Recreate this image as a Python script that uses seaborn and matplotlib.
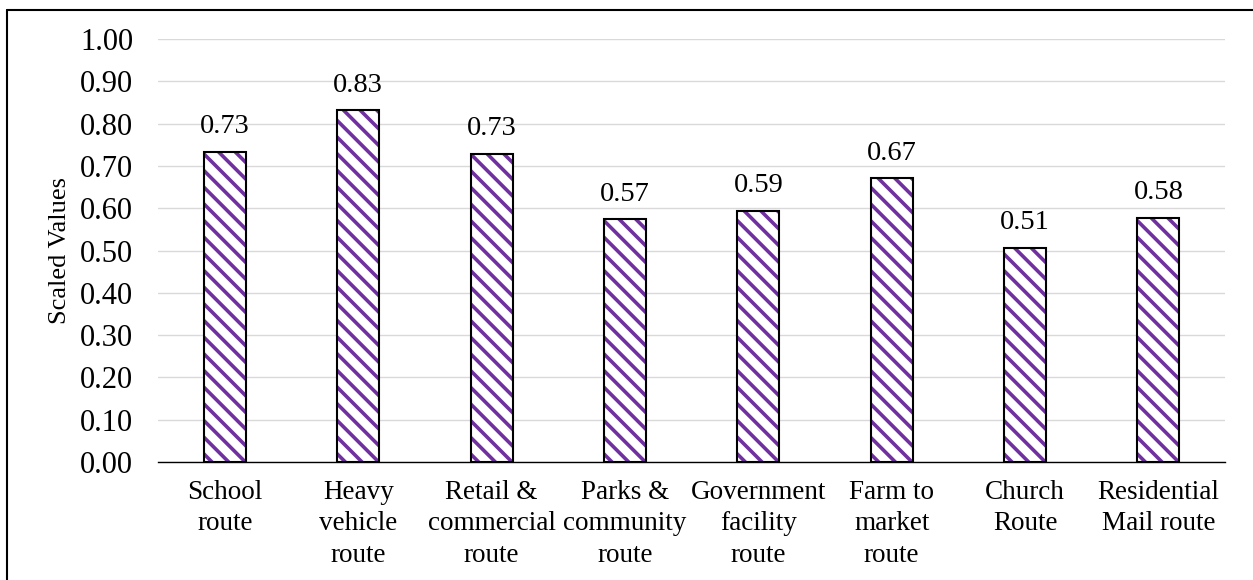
import matplotlib
matplotlib.use("Agg")
import matplotlib.pyplot as plt
from matplotlib.lines import Line2D
import seaborn as sns
import pandas as pd

categories = [
    "School\nroute",
    "Heavy\nvehicle\nroute",
    "Retail &\ncommercial\nroute",
    "Parks &\ncommunity\nroute",
    "Government\nfacility\nroute",
    "Farm to\nmarket\nroute",
    "Church\nRoute",
    "Residential\nMail route",
]
scaled_values = [0.733, 0.831, 0.729, 0.574, 0.594, 0.671, 0.506, 0.577]
y_ticks = [0.0, 0.1, 0.2, 0.3, 0.4, 0.5, 0.6, 0.7, 0.8, 0.9, 1.0]

df = pd.DataFrame({"route": categories, "value": scaled_values})

sns.set_theme(style="white")
plt.rcParams["font.family"] = ["Liberation Serif", "DejaVu Serif"]
plt.rcParams["hatch.linewidth"] = 2.6

purple = "#7030A0"

fig = plt.figure(figsize=(12.53, 5.80), dpi=100)
ax = fig.add_axes([0.1263, 0.2034, 0.8514, 0.7294])

# hatched fill
sns.barplot(data=df, x="route", y="value", color="white", width=0.315,
            edgecolor=purple, linewidth=0, hatch="\\\\", ax=ax, zorder=2)
# black outline on top of the hatch
sns.barplot(data=df, x="route", y="value", fill=False, width=0.315,
            edgecolor="black", linewidth=1.5, ax=ax, zorder=3)

ax.bar_label(ax.containers[0], fmt="%.2f", padding=9, fontsize=20.5, color="black")

ax.set_ylim(0, 1.0)
ax.set_yticks(y_ticks)
ax.set_yticklabels([f"{t:.2f}" for t in y_ticks])
ax.set_xlim(-0.5, len(categories) - 0.5)
ax.yaxis.grid(True, color="#D9D9D9", linewidth=1.0, zorder=0)
ax.set_axisbelow(True)

for side in ["top", "right", "left"]:
    ax.spines[side].set_visible(False)
ax.spines["bottom"].set_color("black")
ax.spines["bottom"].set_linewidth(1.0)
ax.spines["bottom"].set_zorder(4)

ax.tick_params(axis="y", length=0, pad=18, labelsize=22, colors="black")
ax.tick_params(axis="x", length=0, pad=13, labelsize=19.5, colors="black")
for lbl in ax.get_xticklabels():
    lbl.set_linespacing(1.33)

ax.set_xlabel("")
ax.set_ylabel("Scaled Values", fontsize=19, color="black")
ax.yaxis.set_label_coords(-0.082, 0.5)

# frame around the figure (top and left edges)
fig.add_artist(Line2D([7 / 1253, 1.01], [1 - 10 / 580, 1 - 10 / 580],
                      transform=fig.transFigure, color="black", linewidth=1.5))
fig.add_artist(Line2D([7 / 1253, 7 / 1253], [-0.01, 1 - 10 / 580],
                      transform=fig.transFigure, color="black", linewidth=1.5))

fig.savefig("out.png", dpi=100)
